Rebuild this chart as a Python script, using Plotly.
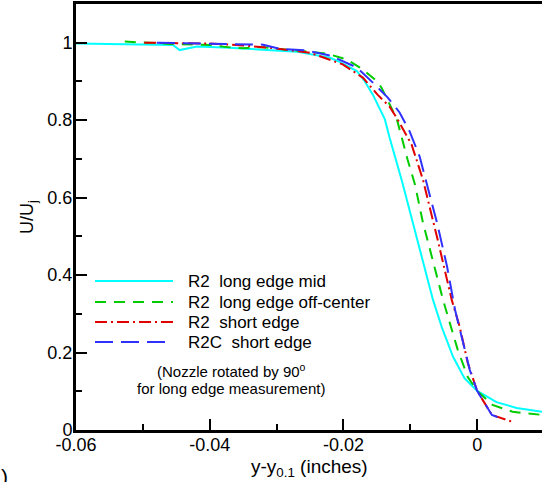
import plotly.graph_objects as go

# ---------------- data ----------------
cyan_x = [-0.060, -0.052, -0.0455, -0.0445, -0.0419, -0.037, -0.027, -0.022, -0.0205, -0.018, -0.0168,
          -0.0156, -0.0138, -0.0131, -0.0113, -0.0066, -0.0053, -0.0036, -0.0019, 0.0, 0.0029, 0.0059, 0.0097]
cyan_y = [0.998, 0.995, 0.994, 0.981, 0.990, 0.987, 0.977, 0.961, 0.950, 0.927, 0.900,
          0.866, 0.802, 0.755, 0.646, 0.336, 0.266, 0.189, 0.134, 0.101, 0.072, 0.057, 0.047]

green_x = [-0.0527, -0.0459, -0.040, -0.037, -0.035, -0.0325, -0.0225, -0.0195, -0.0171, -0.0150, -0.0143,
           -0.0120, -0.0104, -0.0093, -0.0081, -0.0066, -0.0051, -0.0041, -0.0029, -0.0014, 0.0, 0.0023,
           0.0053, 0.0097]
green_y = [1.003, 0.997, 0.994, 0.988, 0.986, 0.989, 0.972, 0.957, 0.931, 0.901, 0.884,
           0.802, 0.698, 0.634, 0.535, 0.432, 0.336, 0.277, 0.207, 0.137, 0.101, 0.065,
           0.047, 0.039]

red_x = [-0.0498, -0.040, -0.035, -0.031, -0.025, -0.0201, -0.0171, -0.0149, -0.0131, -0.0119, -0.0098,
         -0.0081, -0.0059, -0.0038, -0.0026, -0.0014, 0.0, 0.0022, 0.0053]
red_y = [1.000, 0.998, 0.993, 0.987, 0.974, 0.944, 0.910, 0.866, 0.835, 0.802, 0.737,
         0.646, 0.491, 0.336, 0.266, 0.173, 0.101, 0.039, 0.021]

blue_x = [-0.0479, -0.037, -0.032, -0.0295, -0.0255, -0.022, -0.0201, -0.018, -0.0156, -0.0134, -0.0116,
          -0.0101, -0.0086, -0.0074, -0.0060, -0.0045, -0.0033, -0.0021, -0.0011, 0.0, 0.0022, 0.0041]
blue_y = [1.000, 0.997, 0.995, 0.984, 0.980, 0.967, 0.952, 0.936, 0.897, 0.859, 0.820,
          0.771, 0.706, 0.628, 0.535, 0.422, 0.310, 0.225, 0.155, 0.101, 0.039, 0.026]

series_names = ["R2\u00a0 long edge mid", "R2\u00a0 long edge off-center",
                "R2\u00a0 short edge", "R2C\u00a0 short edge"]

x_tickvals = [-0.06, -0.04, -0.02, 0.0]
x_ticktext = ["-0.06", "-0.04", "-0.02", "0"]
y_tickvals = [0, 0.2, 0.4, 0.6, 0.8, 1.0]
y_ticktext = ["0", "0.2", "0.4", "0.6", "0.8", "1"]

# ---------------- styles ----------------
FONT = "Arial, 'Liberation Sans', Helvetica, sans-serif"
colors = ["#00ffff", "#00cc00", "#e00000", "#3030ff"]
dashes = ["solid", "11px,8px", "12px,4px,2px,4px", "18px,8px"]

W, H = 542, 482
ML, MR, MT, MB = 76, 0, 4, 52
PW, PH = W - ML - MR, H - MT - MB


def px2paper(px, py):
    return (px - ML) / PW, (H - MB - py) / PH


fig = go.Figure()
for xs, ys, c, d, n in zip([cyan_x, green_x, red_x, blue_x], [cyan_y, green_y, red_y, blue_y],
                           colors, dashes, series_names):
    fig.add_trace(go.Scatter(x=xs, y=ys, mode="lines", name=n,
                             line=dict(color=c, width=2, dash=d), showlegend=False))

shapes = []
annotations = []
rows = [281, 302, 322, 342]
for row, c, d, n in zip(rows, colors, dashes, series_names):
    x0, y0 = px2paper(95, row)
    x1, _ = px2paper(173, row)
    shapes.append(dict(type="line", xref="paper", yref="paper", x0=x0, x1=x1, y0=y0, y1=y0,
                       line=dict(color=c, width=2, dash=d)))
    tx, _ = px2paper(186, row)
    annotations.append(dict(xref="paper", yref="paper", x=tx, y=y0, xanchor="left", yanchor="middle",
                            text=n, showarrow=False, font=dict(family=FONT, size=17, color="black")))

nx, ny1 = px2paper(231, 370)
_, ny2 = px2paper(231, 388)
annotations.append(dict(xref="paper", yref="paper", x=nx, y=ny1, xanchor="center", yanchor="middle",
                        text="(Nozzle rotated by 90<sup>o</sup>", showarrow=False,
                        font=dict(family=FONT, size=15, color="black")))
annotations.append(dict(xref="paper", yref="paper", x=nx, y=ny2, xanchor="center", yanchor="middle",
                        text="for long edge measurement)", showarrow=False,
                        font=dict(family=FONT, size=15, color="black")))

# axis titles
tx, ty = px2paper(309, 468)
annotations.append(dict(xref="paper", yref="paper", x=tx, y=ty, xanchor="center", yanchor="middle",
                        text="y-y<sub>0.1</sub> (inches)", showarrow=False,
                        font=dict(family=FONT, size=19, color="black")))
tx, ty = px2paper(28, 217)
annotations.append(dict(xref="paper", yref="paper", x=tx, y=ty, xanchor="center", yanchor="middle",
                        text="U/U<sub>j</sub>", textangle=-90, showarrow=False,
                        font=dict(family=FONT, size=18, color="black")))
tx, ty = px2paper(4, 477)
annotations.append(dict(xref="paper", yref="paper", x=tx, y=ty, xanchor="center", yanchor="middle",
                        text=")", showarrow=False,
                        font=dict(family=FONT, size=21, color="black")))

fig.update_layout(
    width=W, height=H, autosize=False,
    margin=dict(l=ML, r=MR, t=MT, b=MB, pad=0),
    paper_bgcolor="white", plot_bgcolor="white",
    font=dict(family=FONT, size=17, color="black"),
    shapes=shapes, annotations=annotations,
    xaxis=dict(range=[-0.06, 0.0097], showgrid=False, zeroline=False,
               showline=True, linecolor="black", linewidth=3, mirror=True,
               ticks="inside", ticklen=11, tickwidth=2, tickcolor="black",
               tickmode="array", tickvals=x_tickvals, ticktext=x_ticktext,
               ticklabelstandoff=-4,
               minor=dict(ticks="inside", dtick=0.01, tick0=-0.06, ticklen=6, tickwidth=1.5,
                          tickcolor="black", showgrid=False),
               tickfont=dict(family=FONT, size=18, color="black")),
    yaxis=dict(range=[0, 1.1], showgrid=False, zeroline=False,
               showline=True, linecolor="black", linewidth=3,
               ticks="inside", ticklen=11, tickwidth=2, tickcolor="black",
               tickmode="array", tickvals=y_tickvals, ticktext=y_ticktext,
               ticklabelstandoff=-3,
               minor=dict(ticks="inside", dtick=0.1, tick0=0, ticklen=6, tickwidth=1.5,
                          tickcolor="black", showgrid=False),
               tickfont=dict(family=FONT, size=18, color="black")),
)

fig.write_html("out.html")
